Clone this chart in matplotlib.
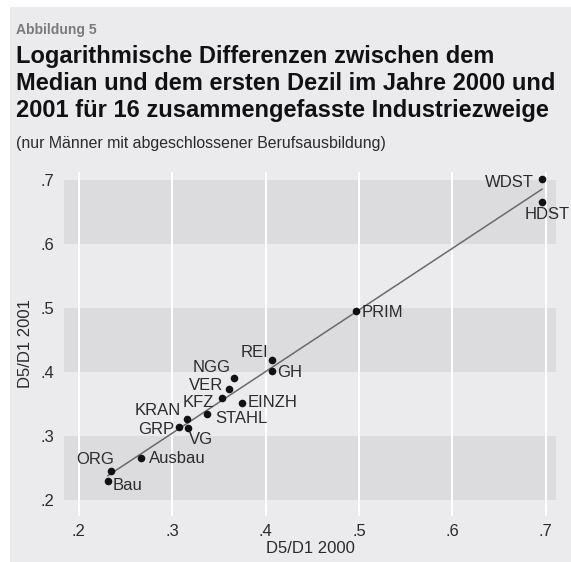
import matplotlib
matplotlib.use("Agg")
import matplotlib.pyplot as plt
import numpy as np

plt.rcParams["font.family"] = ["Liberation Sans", "DejaVu Sans"]

# ---- data ----
labels = ["WDST", "HDST", "PRIM", "REI", "GH", "NGG", "VER", "KFZ", "EINZH",
          "STAHL", "KRAN", "GRP", "VG", "Ausbau", "ORG", "Bau"]
d2000 = [0.696, 0.696, 0.497, 0.407, 0.407, 0.366, 0.361, 0.353, 0.375,
         0.337, 0.316, 0.307, 0.317, 0.267, 0.234, 0.231]
d2001 = [0.701, 0.666, 0.496, 0.419, 0.402, 0.390, 0.373, 0.359, 0.352,
         0.334, 0.327, 0.314, 0.313, 0.266, 0.245, 0.230]
xticks = [0.2, 0.3, 0.4, 0.5, 0.6, 0.7]
yticks = [0.2, 0.3, 0.4, 0.5, 0.6, 0.7]
ticklabels = [".2", ".3", ".4", ".5", ".6", ".7"]

# label placement: (dx, dy) in pixels, ha
offsets = {
    "WDST": (-8, -3, "right"), "HDST": (-17, -13, "left"), "PRIM": (5, -2, "left"),
    "REI": (-4, 7, "right"), "GH": (5, -2, "left"), "NGG": (-3, 11, "right"),
    "VER": (-6, 4, "right"), "KFZ": (-8, -4, "right"), "EINZH": (5, 0, "left"),
    "STAHL": (8, -4, "left"), "KRAN": (-6, 8, "right"), "GRP": (-5, -2, "right"),
    "VG": (1, -12, "left"), "Ausbau": (7, -1, "left"), "ORG": (3, 12, "right"),
    "Bau": (5, -5, "left"),
}

BG = "#ebebed"
BAND = "#dcdcde"
TXT = "#2b2b2b"

fig = plt.figure(figsize=(5.71, 5.62), dpi=100)
fig.patch.set_facecolor("white")
fig.patches.append(plt.Rectangle((10 / 571, 0), 1, 1 - 7 / 562, transform=fig.transFigure,
                                 facecolor=BG, edgecolor="none", zorder=-10))
renderer = fig.canvas.get_renderer()


def fit_size(s, width_px, size0, **kw):
    t = fig.text(0, 0, s, fontsize=size0, **kw)
    w = t.get_window_extent(renderer).width
    t.remove()
    return size0 * width_px / w


ax = fig.add_axes([64 / 571, 46 / 562, 492 / 571, 344 / 562])
ax.patch.set_alpha(0)
for s in ax.spines.values():
    s.set_visible(False)
ax.set_xlim(0.184, 0.711)
ax.set_ylim(0.175, 0.7125)

for lo in (0.2, 0.4, 0.6):
    ax.axhspan(lo, lo + 0.1, color=BAND, lw=0, zorder=0)
for xv in xticks:
    ax.axvline(xv, color="white", lw=1.4, zorder=1)

x = np.array(d2000)
y = np.array(d2001)
b, a = np.polyfit(x, y, 1)
xs = np.array([x.min(), x.max()])
ax.plot(xs, a + b * xs, color="#6a6a6a", lw=1.1, zorder=2)
ax.scatter(x, y, s=30, color="#111111", zorder=3, lw=0)

for lab, xv, yv in zip(labels, d2000, d2001):
    dx, dy, ha = offsets[lab]
    ax.annotate(lab, (xv, yv), xytext=(dx, dy), textcoords="offset pixels",
                ha=ha, va="center", fontsize=12, color=TXT, zorder=4,
                annotation_clip=False)

ax.set_xticks(xticks)
ax.set_xticklabels(ticklabels)
ax.set_yticks(yticks)
ax.set_yticklabels(ticklabels)
ax.tick_params(length=0, labelsize=12, labelcolor=TXT, pad=6)
ax.tick_params(axis="y", pad=7)
ax.set_xlabel("D5/D1 2000", fontsize=12, color=TXT, labelpad=1)
ax.set_ylabel("D5/D1 2001", fontsize=12, color=TXT)
ax.yaxis.set_label_coords(-31 / 492, 0.5)

sz = fit_size("Abbildung 5", 81, 10, fontweight="bold")
fig.text(16 / 571, 1 - 34 / 562, "Abbildung 5", fontsize=sz, fontweight="bold",
         color="#7a7a7a", ha="left", va="baseline")
title = ["Logarithmische Differenzen zwischen dem",
         "Median und dem ersten Dezil im Jahre 2000 und",
         "2001 für 16 zusammengefasste Industriezweige"]
tsz = fit_size(title[1], 539, 17, fontweight="bold")
for i, t in enumerate(title):
    fig.text(16 / 571, 1 - (63 + 27 * i) / 562, t, fontsize=tsz, fontweight="bold",
             color="#111111", ha="left", va="baseline")
sub = "(nur Männer mit abgeschlossener Berufsausbildung)"
ssz = fit_size(sub, 369, 12)
fig.text(16 / 571, 1 - 148 / 562, sub, fontsize=ssz, color=TXT, ha="left", va="baseline")

fig.savefig("out.png", dpi=100, facecolor=fig.get_facecolor())
